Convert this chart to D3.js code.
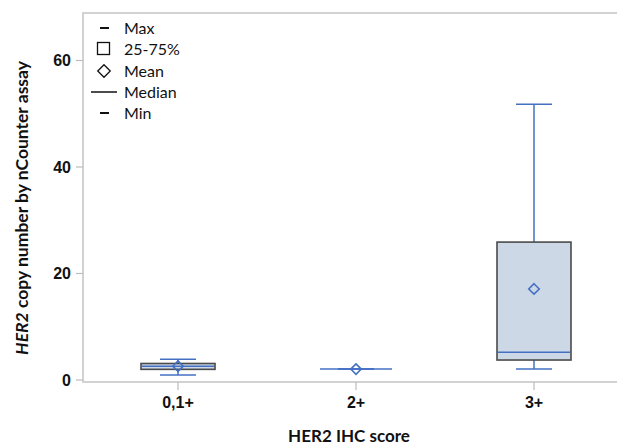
<!DOCTYPE html>
<html>
<head>
<meta charset="utf-8">
<script src="https://cdn.jsdelivr.net/npm/d3@7"></script>
<style>
  body { margin: 0; background: #fff; }
  svg { display: block; }
</style>
</head>
<body>
<svg id="chart" width="617" height="446"></svg>
<script>
// chart values
const categories = ["0,1+", "2+", "3+"];
const maxValues = [3.9, 2.05, 51.8];
const q3Values = [3.1, 2.05, 25.9];
const medianValues = [2.6, 2.05, 5.2];
const q1Values = [2.0, 2.05, 3.75];
const minValues = [0.95, 2.05, 2.05];
const meanValues = [2.6, 2.05, 17.1];
const yTicks = [0, 20, 40, 60];
const legendItems = ["Max", "25-75%", "Mean", "Median", "Min"];

const boxes = categories.map((c, i) => ({
    cat: c, max: maxValues[i], q3: q3Values[i], median: medianValues[i],
    q1: q1Values[i], min: minValues[i], mean: meanValues[i]
}));

const svg = d3.select("#chart");
const frame = {left: 83, top: 13, right: 617, bottom: 382};
const blue = "#4470c4";

const x = d3.scalePoint().domain(categories).range([178, 534]);
const y = d3.scaleLinear().domain([0, 60]).range([380, 60.5]);

// plot frame
svg.append("path")
    .attr("d", `M${frame.right},${frame.top}H${frame.left}V${frame.bottom}H${frame.right}`)
    .attr("fill", "none").attr("stroke", "#c4c4c4").attr("stroke-width", 1.5);

// y axis ticks
const yAxis = svg.append("g");
yAxis.selectAll("line").data(yTicks).join("line")
    .attr("x1", 76).attr("x2", frame.left)
    .attr("y1", d => y(d)).attr("y2", d => y(d))
    .attr("stroke", "#bcbcbc").attr("stroke-width", 1.2);
yAxis.selectAll("text").data(yTicks).join("text")
    .attr("x", 71).attr("y", d => y(d)).attr("dy", "0.36em")
    .attr("text-anchor", "end")
    .attr("font-family", "Liberation Sans, Arial, sans-serif")
    .attr("font-weight", "bold").attr("font-size", 16).attr("fill", "#111")
    .text(d => d);

// x axis ticks
const xAxis = svg.append("g");
xAxis.selectAll("line").data(categories).join("line")
    .attr("x1", d => x(d)).attr("x2", d => x(d))
    .attr("y1", frame.bottom).attr("y2", frame.bottom + 8)
    .attr("stroke", "#bcbcbc").attr("stroke-width", 1.2);
xAxis.selectAll("text").data(categories).join("text")
    .attr("x", d => x(d)).attr("y", 408)
    .attr("text-anchor", "middle")
    .attr("font-family", "Liberation Sans, Arial, sans-serif")
    .attr("font-weight", "bold").attr("font-size", 16).attr("fill", "#111")
    .text(d => d);

// axis titles
svg.append("text")
    .attr("x", 349).attr("y", 442)
    .attr("text-anchor", "middle")
    .attr("font-family", "Lato, sans-serif").attr("font-weight", "bold")
    .attr("font-size", 17).attr("fill", "#111")
    .text("HER2 IHC score");

const yTitle = svg.append("text")
    .attr("transform", "translate(28,208) rotate(-90)")
    .attr("text-anchor", "middle")
    .attr("font-family", "Lato, sans-serif").attr("font-weight", "bold")
    .attr("font-size", 17.5).attr("fill", "#111");
yTitle.append("tspan").attr("font-style", "italic").text("HER2");
yTitle.append("tspan").text(" copy number by nCounter assay");

// boxes
const boxHalf = 37, capHalf = 18;
const g = svg.selectAll("g.box").data(boxes).join("g").attr("class", "box");

g.append("line") // upper whisker
    .attr("x1", d => x(d.cat)).attr("x2", d => x(d.cat))
    .attr("y1", d => y(d.q3)).attr("y2", d => y(d.max))
    .attr("stroke", blue).attr("stroke-width", 1.5);
g.append("line") // lower whisker
    .attr("x1", d => x(d.cat)).attr("x2", d => x(d.cat))
    .attr("y1", d => y(d.q1)).attr("y2", d => y(d.min))
    .attr("stroke", blue).attr("stroke-width", 1.5);
g.append("line")
    .attr("x1", d => x(d.cat) - capHalf).attr("x2", d => x(d.cat) + capHalf)
    .attr("y1", d => y(d.max)).attr("y2", d => y(d.max))
    .attr("stroke", blue).attr("stroke-width", 1.5);
g.append("line")
    .attr("x1", d => x(d.cat) - capHalf).attr("x2", d => x(d.cat) + capHalf)
    .attr("y1", d => y(d.min)).attr("y2", d => y(d.min))
    .attr("stroke", blue).attr("stroke-width", 1.5);

g.filter(d => d.q3 > d.q1).append("rect")
    .attr("x", d => x(d.cat) - boxHalf).attr("width", boxHalf * 2)
    .attr("y", d => y(d.q3)).attr("height", d => y(d.q1) - y(d.q3))
    .attr("fill", "#cdd8e7").attr("stroke", "#4a4a4a").attr("stroke-width", 1.6);

g.append("line") // median
    .attr("x1", d => x(d.cat) - boxHalf + 1).attr("x2", d => x(d.cat) + boxHalf - 1)
    .attr("y1", d => y(d.median)).attr("y2", d => y(d.median))
    .attr("stroke", blue).attr("stroke-width", 1.5);

g.append("path") // mean
    .attr("d", d3.symbol(d3.symbolDiamond2, 70))
    .attr("transform", d => `translate(${x(d.cat)},${y(d.mean)})`)
    .attr("fill", "none").attr("stroke", blue).attr("stroke-width", 1.6);

// legend
const legend = svg.append("g");
const legendY = [28, 49, 71, 92, 113];
const lg = legend.selectAll("g").data(legendItems).join("g")
    .attr("transform", (d, i) => `translate(0,${legendY[i]})`);
lg.append("text")
    .attr("x", 124).attr("dy", "0.36em")
    .attr("font-family", "Lato, sans-serif").attr("font-size", 16).attr("fill", "#111")
    .text(d => d);
lg.each(function (d) {
    const s = d3.select(this);
    if (d === "Max" || d === "Min") {
        s.append("line").attr("x1", 100).attr("x2", 109).attr("stroke", "#111").attr("stroke-width", 2);
    } else if (d === "25-75%") {
        s.append("rect").attr("x", 97.5).attr("y", -6.5).attr("width", 12).attr("height", 12)
            .attr("fill", "none").attr("stroke", "#111").attr("stroke-width", 1.3);
    } else if (d === "Mean") {
        s.append("path").attr("d", d3.symbol(d3.symbolDiamond2, 100))
            .attr("transform", "translate(104,0)")
            .attr("fill", "none").attr("stroke", "#111").attr("stroke-width", 1.3);
    } else {
        s.append("line").attr("x1", 91).attr("x2", 117).attr("stroke", "#111").attr("stroke-width", 1.5);
    }
});
</script>
</body>
</html>
